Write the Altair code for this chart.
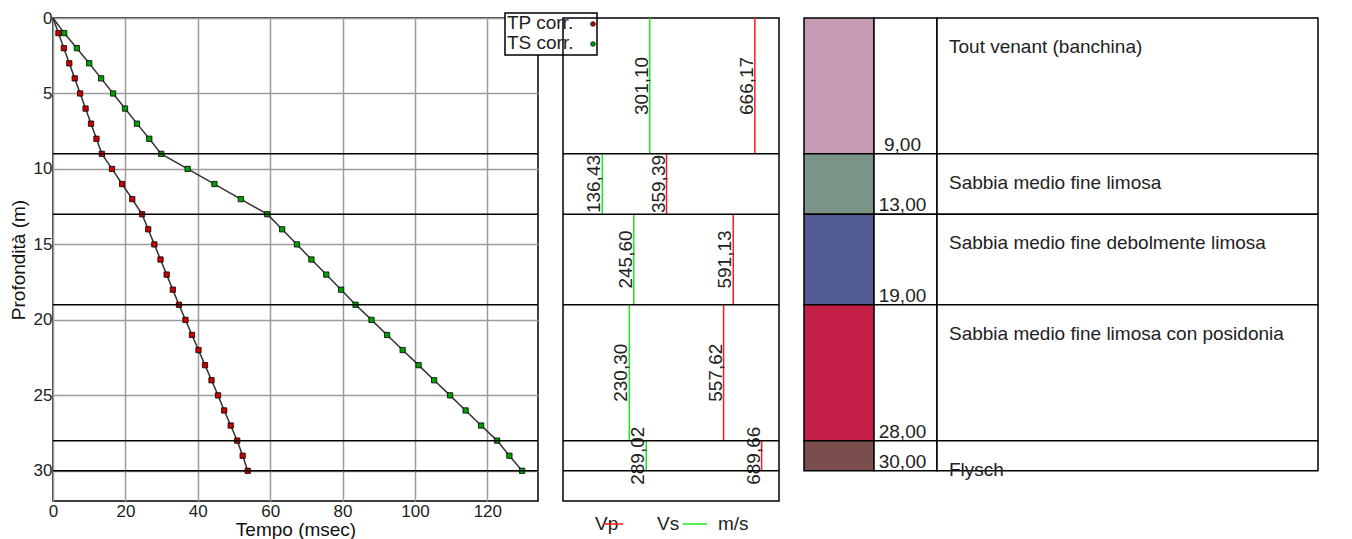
import altair as alt
import pandas as pd

FONT = "Liberation Sans"
FS = 19
LFS = 17

# ---------------- data ----------------
depth = list(range(0, 31))
tp_corr = [0, 1.5, 3.0, 4.5, 6.0, 7.5, 9.0, 10.5, 12.0, 13.5,
           16.3, 19.1, 21.9, 24.6,
           26.3, 28.0, 29.7, 31.4, 33.1, 34.8,
           36.6, 38.4, 40.2, 42.0, 43.8, 45.6, 47.3, 49.1, 50.9,
           52.4, 53.8]
ts_corr = [0, 3.1, 6.6, 10.0, 13.3, 16.6, 19.9, 23.2, 26.6, 29.9,
           37.2, 44.6, 51.9, 59.2,
           63.3, 67.4, 71.4, 75.5, 79.6, 83.6,
           88.0, 92.3, 96.6, 101.0, 105.3, 109.7, 114.0, 118.3, 122.7,
           126.1, 129.6]

layer_top = [0, 9, 13, 19, 28]
layer_bottom = [9, 13, 19, 28, 30]
vp = [666.17, 359.39, 591.13, 557.62, 689.66]
vs = [301.10, 136.43, 245.60, 230.30, 289.02]
layer_name = ["Tout venant (banchina)",
              "Sabbia medio fine limosa",
              "Sabbia medio fine debolmente limosa",
              "Sabbia medio fine limosa con posidonia",
              "Flysch"]
layer_color = ["#c49bb3", "#7a9488", "#525a94", "#c41f47", "#7a4e4c"]

x_ticks = [0, 20, 40, 60, 80, 100, 120]
y_ticks = [0, 5, 10, 15, 20, 25, 30]
series_names = ["TP corr.", "TS corr."]
series_colors = ["#c80000", "#00a000"]

# ---------------- layout ----------------
H = 483
W1, W2, W3 = 485, 216, 514
COL_EDGES = [0, 70, 133, 514]

times = pd.DataFrame({
    "depth": depth + depth,
    "t": tp_corr + ts_corr,
    "serie": [series_names[0]] * len(depth) + [series_names[1]] * len(depth),
})
layers = pd.DataFrame({
    "top": layer_top, "bottom": layer_bottom, "vp": vp, "vs": vs,
    "name": layer_name, "color": layer_color,
})
one = pd.DataFrame({"a": [0]})

yscale = alt.Scale(domain=[0, 32], reverse=True, nice=False, zero=False)

# ---------------- left panel ----------------
x_enc = alt.X("t:Q", scale=alt.Scale(domain=[0, 134], nice=False),
              axis=alt.Axis(values=x_ticks, title="Tempo (msec)", grid=True,
                            labelFlush=False, labelPadding=2, titlePadding=1))
y_enc = alt.Y("depth:Q", scale=yscale,
              axis=alt.Axis(values=y_ticks, title="Profondità (m)", grid=True,
                            labelPadding=1, titlePadding=5))

lines = alt.Chart(times).mark_line(color="#333333", strokeWidth=1.5).encode(
    x=x_enc, y=y_enc, detail="serie:N", order="depth:Q")

pts = alt.Chart(times).transform_filter("datum.depth > 0").mark_point(
    shape="square", filled=True, size=28, stroke="black", strokeWidth=0.8, opacity=1
).encode(
    x="t:Q", y="depth:Q",
    fill=alt.Fill("serie:N", scale=alt.Scale(domain=series_names, range=series_colors), legend=None))

bounds_left = alt.Chart(layers).mark_rule(color="black", strokeWidth=1.5).encode(
    y=alt.Y("bottom:Q", scale=yscale))

leg_box = alt.Chart(one).mark_rect(fill="white", stroke="black", strokeWidth=1.5).encode(
    x=alt.value(452), x2=alt.value(544), y=alt.value(-5), y2=alt.value(37))
leg_items = []
for i, (nm, col) in enumerate(zip(series_names, series_colors)):
    leg_items.append(alt.Chart(one).mark_text(
        text=nm, align="left", baseline="middle", fontSize=FS, color="#222222").encode(
        x=alt.value(454), y=alt.value(5 + 20 * i)))
    leg_items.append(alt.Chart(one).mark_point(
        shape="circle", filled=True, size=22, fill=col, stroke="black", strokeWidth=0.7, opacity=1).encode(
        x=alt.value(540), y=alt.value(6 + 20 * i)))

left = alt.layer(lines, pts, bounds_left, leg_box, *leg_items).properties(width=W1, height=H)

# ---------------- middle panel ----------------
vel_fmt_p = "replace(format(datum.vp, '.2f'), '.', ',')"
vel_fmt_s = "replace(format(datum.vs, '.2f'), '.', ',')"
xv = alt.X("vp:Q", scale=alt.Scale(domain=[0, 750], nice=False), axis=None)
ytop = alt.Y("top:Q", scale=yscale, axis=None)

mid_base = alt.Chart(layers).transform_calculate(
    mid="(datum.top + datum.bottom) / 2", vpl=vel_fmt_p, vsl=vel_fmt_s)

vp_rule = mid_base.mark_rule(color="#ff1a1a", strokeWidth=1.5).encode(x=xv, y=ytop, y2="bottom:Q")
vs_rule = mid_base.mark_rule(color="#1ee61e", strokeWidth=1.5).encode(x="vs:Q", y="top:Q", y2="bottom:Q")
vp_txt = mid_base.mark_text(angle=270, align="center", baseline="alphabetic", dy=-2,
                            fontSize=FS, color="#222222").encode(x="vp:Q", y="mid:Q", text="vpl:N")
vs_txt = mid_base.mark_text(angle=270, align="center", baseline="alphabetic", dy=-2,
                            fontSize=FS, color="#222222").encode(x="vs:Q", y="mid:Q", text="vsl:N")
bounds_mid = alt.Chart(layers).mark_rule(color="black", strokeWidth=1.5).encode(y="bottom:Q")

leg_y = 506
m_leg = [
    alt.Chart(one).mark_text(text="Vp", align="left", baseline="middle", fontSize=FS, color="#222222").encode(
        x=alt.value(32), y=alt.value(leg_y)),
    alt.Chart(one).mark_rule(color="#ff1a1a", strokeWidth=1.5).encode(
        x=alt.value(40), x2=alt.value(60), y=alt.value(leg_y)),
    alt.Chart(one).mark_text(text="Vs", align="left", baseline="middle", fontSize=FS, color="#222222").encode(
        x=alt.value(94), y=alt.value(leg_y)),
    alt.Chart(one).mark_rule(color="#1ee61e", strokeWidth=1.5).encode(
        x=alt.value(120), x2=alt.value(144), y=alt.value(leg_y)),
    alt.Chart(one).mark_text(text="m/s", align="left", baseline="middle", fontSize=FS, color="#222222").encode(
        x=alt.value(155), y=alt.value(leg_y)),
]

middle = alt.layer(vp_rule, vs_rule, vp_txt, vs_txt, bounds_mid, *m_leg).properties(width=W2, height=H)

# ---------------- right panel ----------------
rows = []
for tp_, bt_, col in zip(layer_top, layer_bottom, layer_color):
    for c in range(3):
        rows.append({"x0": COL_EDGES[c], "x1": COL_EDGES[c + 1], "top": tp_, "bottom": bt_,
                     "fill": col if c == 0 else "white"})
cells = pd.DataFrame(rows)

cell_rect = alt.Chart(cells).mark_rect(stroke="black", strokeWidth=1.5).encode(
    x=alt.X("x0:Q", scale=alt.Scale(domain=[0, W3], nice=False, zero=False), axis=None),
    x2="x1:Q",
    y=alt.Y("top:Q", scale=yscale, axis=None), y2="bottom:Q",
    fill=alt.Fill("fill:N", scale=None))

depth_lab = alt.Chart(layers).transform_calculate(
    lab="replace(format(datum.bottom, '.2f'), '.', ',')").mark_text(
    align="center", baseline="alphabetic", dy=-3, fontSize=FS, color="#222222").encode(
    x=alt.value((COL_EDGES[1] + COL_EDGES[2]) / 2 - 3), y="bottom:Q", text="lab:N")

desc = alt.Chart(layers).mark_text(
    align="left", baseline="middle", dy=29, fontSize=FS, color="#222222").encode(
    x=alt.value(COL_EDGES[2] + 12), y="top:Q", text="name:N")

right = alt.layer(cell_rect, depth_lab, desc).properties(
    width=W3, height=H, view=alt.ViewBackground(stroke="transparent"))

chart = alt.hconcat(left, middle, right, spacing=25, bounds="flush").properties(
    padding={"left": 0, "top": 0, "right": 5, "bottom": 5}
).configure(font=FONT).configure_view(
    stroke="black", strokeWidth=1.5
).configure_axis(
    domain=False, ticks=False, labelFontSize=LFS, titleFontSize=FS,
    titleFontWeight="normal", labelColor="#222222", titleColor="#111111",
    gridColor="#9c9c9c", gridWidth=1.5, labelFont=FONT, titleFont=FONT
)

chart.save("out.html", embed_options={"renderer": "svg", "actions": False})
